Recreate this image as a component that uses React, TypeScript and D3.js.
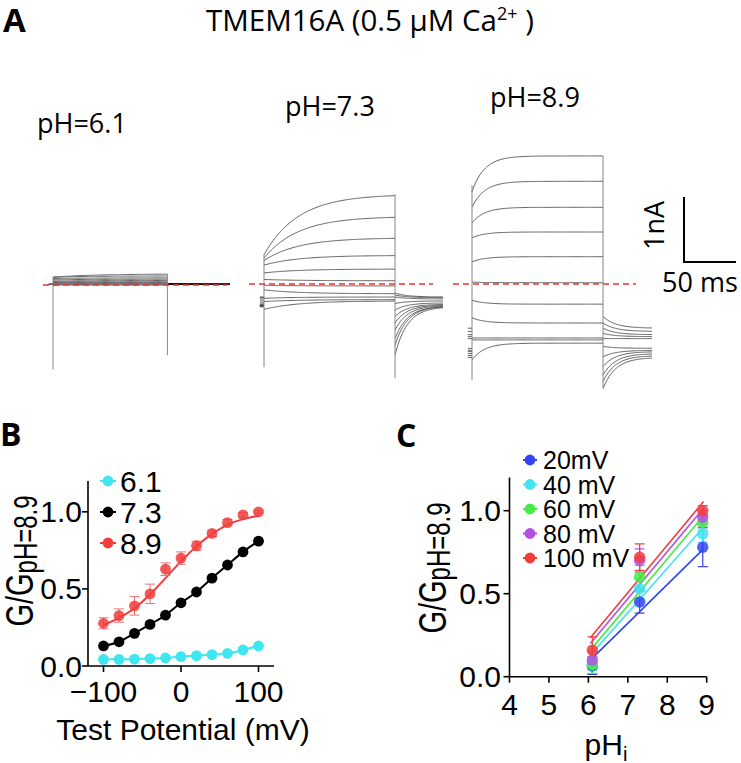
import React from 'react';
import * as d3 from 'd3';

// ---------------- DATA ----------------
const potentials = [-100, -80, -60, -40, -20, 0, 20, 40, 60, 80, 100];
const phGroups = ['pH=6.1', 'pH=7.3', 'pH=8.9'];

// Panel A: currents (nA) per test potential, start / end of the step and of the tail
const start61 = [0.0, 0.01, 0.02, 0.03, 0.04, 0.05, 0.06, 0.08, 0.1, 0.12, 0.12];
const end61 = [0.0, 0.01, 0.02, 0.03, 0.04, 0.05, 0.07, 0.09, 0.11, 0.14, 0.17];
const tailStart61 = [0.01, 0.01, 0.01, 0.01, 0.01, 0.01, 0.01, 0.02, 0.02, 0.02, 0.02];
const tailEnd61 = [0.01, 0.01, 0.01, 0.01, 0.01, 0.01, 0.01, 0.01, 0.01, 0.01, 0.01];

const start73 = [-0.39, -0.27, -0.22, -0.09, -0.02, 0.07, 0.17, 0.29, 0.36, 0.4, 0.45];
const end73 = [-0.26, -0.24, -0.2, -0.15, -0.03, 0.05, 0.23, 0.44, 0.71, 1.04, 1.38];
const tailStart73 = [-0.14, -0.17, -0.2, -0.3, -0.4, -0.5, -0.6, -0.71, -0.84, -0.94, -1.09];
const tailEnd73 = [-0.2, -0.21, -0.23, -0.26, -0.29, -0.31, -0.32, -0.33, -0.34, -0.34, -0.35];

const start89 = [-1.17, -0.86, -0.83, -0.52, -0.25, 0.03, 0.34, 0.71, 0.94, 1.18, 1.42];
const end89 = [-0.91, -0.86, -0.83, -0.6, -0.31, 0.02, 0.42, 0.8, 1.18, 1.58, 1.97];
const tailStart89 = [-0.5, -0.6, -0.68, -0.76, -0.84, -0.96, -1.12, -1.27, -1.4, -1.5, -1.61];
const tailEnd89 = [-0.68, -0.73, -0.78, -0.81, -0.84, -0.99, -1.02, -1.04, -1.07, -1.1, -1.13];

const stepMs = [110, 126, 126];
const tailMs = [60, 46, 47];
const actTau = [40, 33, 12];
const tailTau = [15, 12, 12];
const spikeOn = [[-1.3, 0.12], [-1.28, 0.45], [-1.48, 1.52]];
const spikeOff = [[-1.08, 0.17], [-1.45, 1.38], [-1.6, 1.97]];

// Panel B: G/G(pH 8.9) vs test potential
const g61 = [0.043, 0.043, 0.045, 0.048, 0.052, 0.061, 0.067, 0.074, 0.082, 0.104, 0.13];
const g73 = [0.13, 0.157, 0.212, 0.27, 0.33, 0.41, 0.48, 0.57, 0.655, 0.74, 0.81];
const g89 = [0.277, 0.327, 0.39, 0.468, 0.628, 0.7, 0.78, 0.86, 0.93, 0.98, 1.0];
const g89Err = [0.036, 0.043, 0.06, 0.063, 0.041, 0.04, 0.03, 0.02, 0.02, 0.015, 0.01];
const g89Fit = [0.266, 0.31, 0.37, 0.46, 0.57, 0.68, 0.78, 0.86, 0.92, 0.955, 0.975];
const bLegend = ['6.1', '7.3', '8.9'];
const bXTicks = [-100, 0, 100];
const bYTicks = [0, 0.5, 1.0];

// Panel C: G/G(pH 8.9) vs pHi
const phValues = [6.1, 7.3, 8.9];
const cLabels = ['20mV', '40 mV', '60 mV', '80 mV', '100 mV'];
const c20 = [0.064, 0.45, 0.78];
const c40 = [0.08, 0.53, 0.86];
const c60 = [0.07, 0.6, 0.93];
const c80 = [0.1, 0.7, 0.96];
const c100 = [0.16, 0.72, 1.0];
const cErr20 = [0.05, 0.067, 0.117];
const cErr40 = [0.04, 0.06, 0.05];
const cErr60 = [0.05, 0.07, 0.05];
const cErr80 = [0.05, 0.07, 0.04];
const cErr100 = [0.08, 0.08, 0.03];
const fitPh = [6.05, 8.92];
const fitLo = [0.1, 0.13, 0.16, 0.2, 0.235];
const fitHi = [0.77, 0.9, 0.97, 1.015, 1.055];
const cXTicks = [4, 5, 6, 7, 8, 9];
const cYTicks = [0, 0.5, 1.0];

// ---------------- STYLE / LAYOUT ----------------
const PX_PER_MS = 1.04;
const PX_PER_NA = 65;
const groupX0 = [53, 264, 472];
const groupY0 = [285, 284, 284];
const dashX = [[43, 227], [249, 433], [453, 636]];
const labelPos = [[37, 133], [285, 116], [490, 107]];
const traceColor = ['#606060', '#3c3c3c', '#3c3c3c'];

const bColors = ['#3fe6f0', '#000000', '#f23c3c'];
const cColors = ['#3344ee', '#44e2f4', '#44ec44', '#b64ee6', '#f23c3c'];

const SANS = 'Liberation Sans, Arial, sans-serif';
const OPEN = 'Open Sans, sans-serif';

const SText = ({ x, y, k = 1, anchor = 'start', size, family = SANS, weight = 400, fill = '#000', children }: any) => (
  <g transform={`translate(${x},${y}) scale(${k},1)`}>
    <text textAnchor={anchor} fontSize={size} fontFamily={family} fontWeight={weight} fill={fill}>
      {children}
    </text>
  </g>
);

function PanelA() {
  const groups = [
    { s: start61, e: end61, ts: tailStart61, te: tailEnd61 },
    { s: start73, e: end73, ts: tailStart73, te: tailEnd73 },
    { s: start89, e: end89, ts: tailStart89, te: tailEnd89 },
  ];
  const line = d3.line<[number, number]>();
  return (
    <g>
      {groups.map((g, gi) => {
        const x0 = groupX0[gi];
        const xs = d3.scaleLinear().domain([0, stepMs[gi]]).range([x0, x0 + stepMs[gi] * PX_PER_MS]);
        const xOff = xs(stepMs[gi]);
        const xt = d3.scaleLinear().domain([0, tailMs[gi]]).range([xOff, xOff + tailMs[gi] * PX_PER_MS]);
        const ys = d3.scaleLinear().domain([0, 1]).range([groupY0[gi], groupY0[gi] - PX_PER_NA]);
        return (
          <g key={gi}>
            {potentials.map((_, i) => {
              const act = d3.range(0, stepMs[gi] + 0.01, 1).map(
                (t) => [xs(t), ys(g.e[i] + (g.s[i] - g.e[i]) * Math.exp(-t / actTau[gi]))] as [number, number]
              );
              const tail = d3.range(0, tailMs[gi] + 0.01, 1).map(
                (t) => [xt(t), ys(g.te[i] + (g.ts[i] - g.te[i]) * Math.exp(-t / tailTau[gi]))] as [number, number]
              );
              const hold = [[xs(-4), ys(g.te[i])], [xs(0), ys(g.te[i])]] as [number, number][];
              return (
                <g key={i} fill="none" stroke={traceColor[gi]} strokeWidth={gi === 0 ? 1 : 0.8}>
                  <path d={line(hold) || ''} />
                  <path d={line(act) || ''} />
                  <path d={line(tail) || ''} stroke={gi === 0 ? '#111' : traceColor[gi]} />
                </g>
              );
            })}
            <line x1={xs(0)} x2={xs(0)} y1={ys(spikeOn[gi][0])} y2={ys(spikeOn[gi][1])} stroke="#888" strokeWidth={1} />
            <line x1={xOff} x2={xOff} y1={ys(spikeOff[gi][0])} y2={ys(spikeOff[gi][1])} stroke="#888" strokeWidth={1} />
            <line x1={dashX[gi][0]} x2={dashX[gi][1]} y1={ys(0)} y2={ys(0)} stroke="#ee3030" strokeWidth={1.6} strokeDasharray="6,4" />
            <text x={labelPos[gi][0]} y={labelPos[gi][1]} fontFamily={OPEN} fontSize={27}>{phGroups[gi]}</text>
          </g>
        );
      })}
      {(() => {
        const sx = d3.scaleLinear().domain([0, 50]).range([684, 684 + 50 * PX_PER_MS]);
        const sy = d3.scaleLinear().domain([0, 1]).range([262, 262 - PX_PER_NA]);
        return (
          <g>
            <path d={`M${sx(0)},${sy(1)}V${sy(0)}H${sx(50)}`} fill="none" stroke="#000" strokeWidth={2} />
            <text transform={`translate(664,${(sy(0) + sy(1)) / 2 - 4}) rotate(-90)`} textAnchor="middle" fontFamily={OPEN} fontSize={27}>1nA</text>
            <text x={700} y={292} textAnchor="middle" fontFamily={OPEN} fontSize={27}>50 ms</text>
          </g>
        );
      })()}
      <text x={3} y={32} fontFamily={OPEN} fontWeight={700} fontSize={33}>A</text>
      <text x={370} y={31} textAnchor="middle" fontFamily={OPEN} fontSize={29.5}>
        TMEM16A (0.5 μM Ca<tspan dy={-11} fontSize={18}>2+</tspan><tspan dy={11}> )</tspan>
      </text>
    </g>
  );
}

function YLabel({ x, y }: { x: number; y: number }) {
  return (
    <g transform={`translate(${x},${y}) scale(1.35,1) rotate(-90)`}>
      <text textAnchor="middle" fontFamily={SANS} fontSize={29}>
        G/G<tspan fontSize={24} dy={3}>pH=8.9</tspan>
      </text>
    </g>
  );
}

function PanelB() {
  const x = d3.scaleLinear().domain([-120, 120]).range([88, 274]);
  const y = d3.scaleLinear().domain([0, 1.2]).range([666, 481]);
  const series = [g61, g73, g89];
  const mk = (data: number[], curve: any) =>
    d3.line<number>().x((_, i) => x(potentials[i])).y((d) => y(d)).curve(curve)(data) || '';
  return (
    <g>
      <text x={0} y={446} fontFamily={OPEN} fontWeight={700} fontSize={32}>B</text>
      <line x1={x(-120)} x2={x(120)} y1={y(0)} y2={y(0)} stroke="#000" strokeWidth={1.6} />
      <line x1={x(-120)} x2={x(-120)} y1={y(0)} y2={y(1.2)} stroke="#000" strokeWidth={1.6} />
      {bXTicks.map((t) => (
        <g key={t}>
          <line x1={x(t)} x2={x(t)} y1={y(0)} y2={y(0) + 6} stroke="#000" strokeWidth={1.6} />
          <SText x={x(t)} y={702} k={1.0} anchor="middle" size={30}>{t < 0 ? '\u2212' + Math.abs(t) : String(t)}</SText>
        </g>
      ))}
      {bYTicks.map((t) => (
        <g key={t}>
          <line x1={x(-120) - 6} x2={x(-120)} y1={y(t)} y2={y(t)} stroke="#000" strokeWidth={1.6} />
          <SText x={82} y={y(t) + 10.5} k={1.0} anchor="end" size={30}>{t.toFixed(1)}</SText>
        </g>
      ))}
      <SText x={183} y={740} k={1.0} anchor="middle" size={30}>Test Potential (mV)</SText>
      <YLabel x={33} y={561} />
      <path d={mk(g61, d3.curveMonotoneX)} fill="none" stroke={bColors[0]} strokeWidth={2} />
      <path d={mk(g73, d3.curveMonotoneX)} fill="none" stroke={bColors[1]} strokeWidth={2} />
      <path d={mk(g89Fit, d3.curveBasis)} fill="none" stroke={bColors[2]} strokeWidth={2} />
      {g89.map((v, i) => (
        <g key={i} stroke="#f07070" strokeWidth={1}>
          <line x1={x(potentials[i])} x2={x(potentials[i])} y1={y(v - g89Err[i])} y2={y(v + g89Err[i])} />
          <line x1={x(potentials[i]) - 5} x2={x(potentials[i]) + 5} y1={y(v - g89Err[i])} y2={y(v - g89Err[i])} />
          <line x1={x(potentials[i]) - 5} x2={x(potentials[i]) + 5} y1={y(v + g89Err[i])} y2={y(v + g89Err[i])} />
        </g>
      ))}
      {series.map((s, si) =>
        s.map((v, i) => (
          <circle key={si + '-' + i} cx={x(potentials[i])} cy={y(v)} r={5.4} fill={bColors[si]} fillOpacity={si === 2 ? 0.85 : 1} />
        ))
      )}
      {bLegend.map((l, i) => {
        const cy = 481 + i * 31;
        return (
          <g key={l}>
            <line x1={100} x2={116} y1={cy} y2={cy} stroke={bColors[i]} strokeWidth={2} />
            <circle cx={108} cy={cy} r={5.4} fill={bColors[i]} />
            <SText x={120} y={cy + 10.5} k={1.0} size={30}>{l}</SText>
          </g>
        );
      })}
    </g>
  );
}

function PanelC() {
  const x = d3.scaleLinear().domain([4, 9]).range([509.5, 706.7]);
  const y = d3.scaleLinear().domain([0, 1.2]).range([676.7, 477.5]);
  const series = [c20, c40, c60, c80, c100];
  const errs = [cErr20, cErr40, cErr60, cErr80, cErr100];
  return (
    <g>
      <text x={396} y={447} fontFamily={OPEN} fontWeight={700} fontSize={32}>C</text>
      <line x1={x(4)} x2={x(9)} y1={y(0)} y2={y(0)} stroke="#000" strokeWidth={1.6} />
      <line x1={x(4)} x2={x(4)} y1={y(0)} y2={y(1.2)} stroke="#000" strokeWidth={1.6} />
      {cXTicks.map((t) => (
        <g key={t}>
          <line x1={x(t)} x2={x(t)} y1={y(0)} y2={y(0) + 6} stroke="#000" strokeWidth={1.6} />
          <SText x={x(t)} y={715} k={1.0} anchor="middle" size={30}>{String(t)}</SText>
        </g>
      ))}
      {cYTicks.map((t) => (
        <g key={t}>
          <line x1={x(4) - 6} x2={x(4)} y1={y(t)} y2={y(t)} stroke="#000" strokeWidth={1.6} />
          <SText x={501} y={y(t) + 10.5} k={1.0} anchor="end" size={30}>{t.toFixed(1)}</SText>
        </g>
      ))}
      <SText x={606} y={755} k={1.0} anchor="middle" size={30}>
        pH<tspan fontSize={20} dy={6}>i</tspan>
      </SText>
      <YLabel x={446} y={568} />
      {series.map((s, si) => (
        <g key={si}>
          <line x1={x(fitPh[0])} x2={x(fitPh[1])} y1={y(fitLo[si])} y2={y(fitHi[si])} stroke={cColors[si]} strokeWidth={1.6} />
          {s.map((v, i) => (
            <g key={i} stroke={cColors[si]} strokeWidth={1.2}>
              <line x1={x(phValues[i])} x2={x(phValues[i])} y1={y(v - errs[si][i])} y2={y(v + errs[si][i])} />
              <line x1={x(phValues[i]) - 5} x2={x(phValues[i]) + 5} y1={y(v - errs[si][i])} y2={y(v - errs[si][i])} />
              <line x1={x(phValues[i]) - 5} x2={x(phValues[i]) + 5} y1={y(v + errs[si][i])} y2={y(v + errs[si][i])} />
            </g>
          ))}
        </g>
      ))}
      {series.map((s, si) =>
        s.map((v, i) => (
          <circle key={si + '-' + i} cx={x(phValues[i])} cy={y(v)} r={5.7} fill={cColors[si]} fillOpacity={0.85} />
        ))
      )}
      {cLabels.map((l, i) => {
        const cy = 460 + i * 24.5;
        return (
          <g key={l}>
            <line x1={523} x2={537} y1={cy} y2={cy} stroke={cColors[i]} strokeWidth={2} />
            <circle cx={530} cy={cy} r={5.4} fill={cColors[i]} />
            <SText x={543} y={cy + 9} k={1.0} size={25}>{l}</SText>
          </g>
        );
      })}
    </g>
  );
}

export default function App() {
  return (
    <svg width={741} height={763} style={{ position: 'absolute', left: 0, top: 0, background: '#fff' }}>
      <rect width={741} height={763} fill="#fff" />
      <PanelA />
      <PanelB />
      <PanelC />
    </svg>
  );
}
